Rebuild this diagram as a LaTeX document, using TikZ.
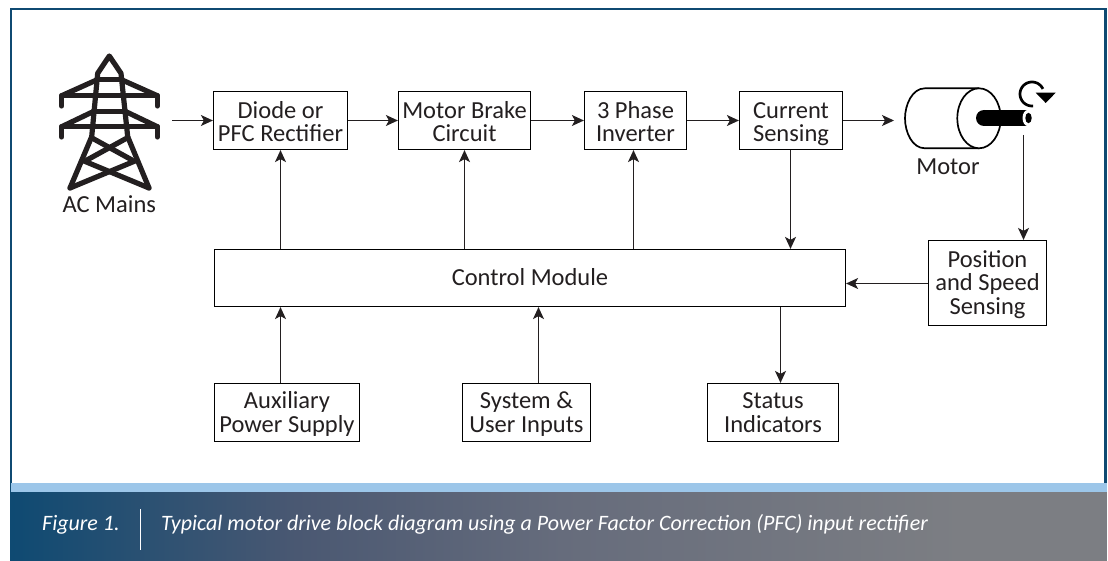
\documentclass[tikz,border=0pt]{standalone}
\usepackage{fontspec}
\setmainfont{Carlito}
\usetikzlibrary{arrows.meta}
\definecolor{ink}{HTML}{231F20}
\definecolor{framec}{HTML}{0F4A72}
\definecolor{bandc}{HTML}{9CC6E9}
\definecolor{grayc}{HTML}{808285}
\definecolor{gradA}{HTML}{4A5872}
\definecolor{gradB}{HTML}{666C7C}
\definecolor{gradC}{HTML}{7C7E83}
\pgfdeclarehorizontalshading{capshade}{100bp}{
  color(0bp)=(framec);
  color(25bp)=(framec);
  color(40bp)=(gradA);
  color(54bp)=(gradB);
  color(75bp)=(gradC);
  color(100bp)=(gradC)}
\tikzset{
  blockbox/.style={draw=black,line width=1.2pt,fill=white,inner sep=0pt,align=center,text=ink,font=\fontsize{24.5}{23.3}\selectfont},
  link/.style={draw=ink,line width=1.2pt,-{Stealth[length=12pt,width=11pt,inset=3pt]}},
  tower/.style={draw=ink,line width=5.2pt,line cap=round,line join=round},
  lbl/.style={text=ink,font=\fontsize{24.5}{23.3}\selectfont,inner sep=0pt},
  captxt/.style={text=white,font=\fontsize{22}{24}\selectfont\itshape,inner sep=0pt,anchor=base west}
}
\newcommand{\fixh}{\rule{0pt}{21.7pt}}
\newcommand{\fixht}{\rule{0pt}{24.7pt}}
\newcommand{\fixd}{\rule[-6pt]{0pt}{6pt}}
\newcommand{\blk}[6]{\node[blockbox,minimum width=#4pt-#2pt,minimum height=#5pt-#3pt] (#1) at ({(#2+#4)/2},{(#3+#5)/2}) {\fixh#6\fixd};}
\newcommand{\blkt}[6]{\node[blockbox,minimum width=#4pt-#2pt,minimum height=#5pt-#3pt] (#1) at ({(#2+#4)/2},{(#3+#5)/2}) {\fixht#6\fixd};}
\begin{document}
\begin{tikzpicture}[x=1pt,y=-1pt]
\useasboundingbox (0,0) rectangle (1108,561);
\fill[white] (0,0) rectangle (1108,561);
% frame
\draw[framec,line width=2.5pt] (11.2,491) -- (11.2,9) -- (1105.5,9) -- (1105.5,491);
% caption band
\fill[framec] (10,491) rectangle (12.5,561);
\shade[shading=capshade] (12,491) rectangle (960,561);
\fill[gradC] (959.5,491) rectangle (1107,561);
\fill[bandc] (11,483) rectangle (1107,491.5);
\node[captxt] (figno) at (42,530) {Figure 1.};
\coordinate (divtop) at (140.5,509);
\coordinate (divbot) at (140.5,550);
\draw[white,line width=1pt] (divtop) -- (divbot);
\node[captxt] (captext) at (161,530) {Typical motor drive block diagram using a Power Factor Correction (PFC) input rectifier};
% blocks
\blkt{diode}{213.5}{91.5}{347.5}{149.5}{Diode or\\PFC Rectifier}
\blkt{brake}{398.5}{91.5}{530.5}{149.5}{Motor Brake\\Circuit}
\blkt{inv}{584.5}{91.5}{686.5}{149.5}{3 Phase\\Inverter}
\blkt{cur}{739.5}{91.5}{842.5}{149.5}{Current\\Sensing}
\blk{ctl}{214.5}{249.5}{845.5}{306.5}{Control Module}
\blk{pos}{928.5}{240.5}{1046.5}{325.5}{Position\\and Speed\\Sensing}
\blk{aux}{214.5}{383.5}{359.5}{441.5}{Auxiliary\\Power Supply}
\blk{sys}{462.5}{383.5}{590.5}{441.5}{System \&\\User Inputs}
\blk{stat}{707.5}{383.5}{838.5}{441.5}{Status\\Indicators}
% tower
\draw[tower] (91.7,136.7) -- (97.7,73.3) -- (109.3,56) -- (121,73.3) -- (127.7,136.7);
\draw[tower] (91.7,136.7) -- (70,188);
\draw[tower] (127.7,136.7) -- (149,188);
\draw[tower] (97.7,79.5) -- (121,79.5);
\draw[tower] (61.7,106) -- (61.7,95.7) -- (157.3,95.7) -- (157.3,106);
\draw[tower] (61.7,95.7) -- (97.7,79.5);
\draw[tower] (157.3,95.7) -- (121,79.5);
\draw[tower] (93,111.7) -- (126,111.7);
\draw[tower] (61.7,137) -- (61.7,126.7) -- (157.3,126.7) -- (157.3,137);
\draw[tower] (61.7,126.7) -- (93,111.7);
\draw[tower] (157.3,126.7) -- (126,111.7);
\draw[tower] (92,138) -- (132,160);
\draw[tower] (127,138) -- (87,160);
\draw[tower] (84,161) -- (149,188);
\draw[tower] (135,161) -- (70,188);
\node[lbl] (acm) at (109.3,204.5) {AC Mains};
% motor
\draw[black,line width=1.7pt,fill=white] (979,88.3) -- (925,88.3) .. controls (912,88.3) and (905,105) .. (905,118.3) .. controls (905,132) and (912,148.3) .. (925,148.3) -- (979,148.3);
\draw[black,line width=1.7pt,fill=white] (979,118.3) ellipse [x radius=21.7,y radius=30];
\fill[black] (984,118) circle [radius=8];
\fill[black] (984,110) rectangle (1027,126);
\fill[white] (1028,118) ellipse [x radius=5.5,y radius=8.2];
\fill[black] (1028.5,118) ellipse [x radius=3.2,y radius=5.2];
\draw[black,line width=2.7pt] plot[domain=85:335,samples=40] ({1032+12*cos(\x)},{94+12*sin(\x)});
\fill[black] (1035.7,92.7) -- (1055.7,92.7) -- (1045.7,103) -- cycle;
\node[lbl] (motlbl) at (948,166.5) {Motor};
% connectors
\coordinate (acout) at (172,120.5);
\coordinate (shaft) at (1023.5,135);
\draw[link] (acout) -- (acout -| diode.west);
\draw[link] (diode.east) -- (brake.west);
\draw[link] (brake.east) -- (inv.west);
\draw[link] (inv.east) -- (cur.west);
\coordinate (motin) at (894,120.5);
\draw[link] (cur.east) -- (motin);
\coordinate (curx) at (790.5,200);
\draw[link] (cur.south -| curx) -- (ctl.north -| curx);
\coordinate (diox) at (280.5,200);
\draw[link] (ctl.north -| diox) -- (diode.south -| diox);
\coordinate (brax) at (464.5,200);
\draw[link] (ctl.north -| brax) -- (brake.south -| brax);
\coordinate (invx) at (633.5,120);
\draw[link] (ctl.north -| invx) -- (inv.south -| invx);
\draw[link] (shaft) -- (shaft |- pos.north);
\coordinate (posy) at (1000,283.5);
\draw[link] (pos.west |- posy) -- (ctl.east |- posy);
\coordinate (auxx) at (280.5,400);
\draw[link] (aux.north -| auxx) -- (ctl.south -| auxx);
\coordinate (sysx) at (538.5,400);
\draw[link] (sys.north -| sysx) -- (ctl.south -| sysx);
\coordinate (statx) at (780.5,400);
\draw[link] (ctl.south -| statx) -- (stat.north -| statx);
\end{tikzpicture}
\end{document}
